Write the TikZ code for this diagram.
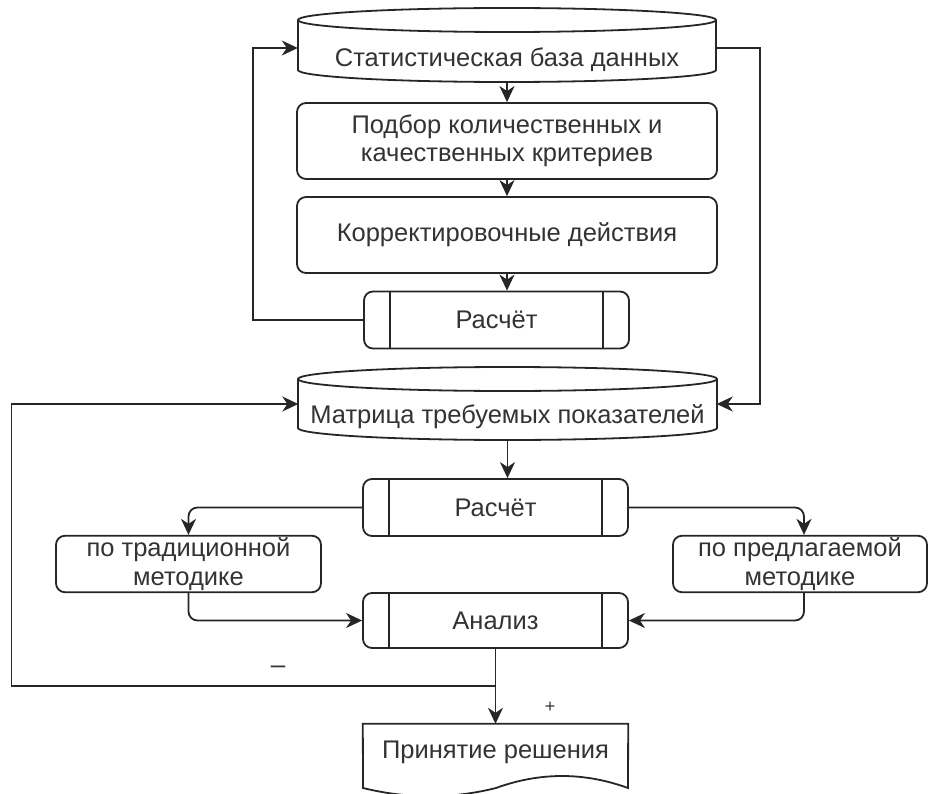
\documentclass[tikz,border=0pt]{standalone}
\usepackage{fontspec}
\setmainfont{Liberation Sans}
\usetikzlibrary{positioning, arrows.meta, calc}

\begin{document}
\begin{tikzpicture}[
  x=1pt, y=-1pt,
  every node/.style={font=\fontsize{25.5}{28.5}\selectfont, text=black!80},
  outline/.style={draw=black!85, line width=1.8pt},
  arr/.style={outline, -{Stealth[length=16pt, width=15pt, inset=5pt]}},
  box/.style={outline, rounded corners=9pt, align=center, inner sep=2pt},
  bigbox/.style={box, minimum width=420pt, minimum height=76pt},
  smallbox/.style={box, minimum width=265pt, minimum height=56pt},
  procbox/.style={smallbox, minimum height=57pt,
    append after command={
      ([xshift=27pt]\tikzlastnode.north west) edge[outline] ([xshift=27pt]\tikzlastnode.south west)
      ([xshift=-27pt]\tikzlastnode.north east) edge[outline] ([xshift=-27pt]\tikzlastnode.south east)}},
  dbtext/.style={minimum width=418pt, inner sep=0pt},
  sign/.style={font=\fontsize{26}{28}\selectfont, inner sep=1pt}
]
\useasboundingbox (0,0) rectangle (928,794);

% Databases (cylinders)
\draw[outline] (298,20) -- (298,70)
  arc[start angle=180, end angle=360, x radius=209pt, y radius=12pt] -- (716,20);
\draw[outline] (507,20) ellipse[x radius=209pt, y radius=12pt];
\node[dbtext, minimum height=44pt] (stat) at (507,60) {Статистическая база данных};

\draw[outline] (298,379) -- (298,428)
  arc[start angle=180, end angle=360, x radius=209.5pt, y radius=12pt] -- (717,379);
\draw[outline] (507.5,379) ellipse[x radius=209.5pt, y radius=12pt];
\node[dbtext, minimum height=46pt] (matr) at (507.5,417) {Матрица требуемых показателей};

% Upper loop
\node[bigbox] (podbor) at (507,141) {Подбор количественных и\\качественных критериев};
\node[bigbox] (korr) at (507,235) {Корректировочные действия};
\node[procbox] (calc1) at (496.5,320) {Расчёт};

% Lower part
\node[procbox] (calc2) at (495.5,507.5) {Расчёт};
\node[smallbox] (trad) at (188.5,564) {по традиционной\\методике};
\node[smallbox, minimum width=254pt] (pred) at (800,564) {по предлагаемой\\методике};
\node[procbox, minimum height=55pt] (anal) at (495.5,620.5) {Анализ};

% Decision (document shape)
\node[minimum width=265pt, minimum height=56pt, inner sep=0pt] (dec) at (495.5,752) {Принятие решения};
\draw[outline] (dec.north west) -- (dec.north east) -- (628,788)
  .. controls (584,772) and (540,772) .. (496,788)
  .. controls (452,799) and (408,799) .. (363,788) -- cycle;

% Connectors
\draw[arr] (stat.south) -- (podbor.north);
\draw[arr] (podbor.south) -- (korr.north);
\draw[arr] (korr.south) -- (korr.south |- calc1.north);
\draw[arr] (calc1.west) -- ++(-110,0) |- ([yshift=12pt]stat.west);
\draw[arr] ([yshift=12pt]stat.east) -- ++(44,0) |- ([yshift=13pt]matr.east);
\draw[arr] (matr.south) -- (matr.south |- calc2.north);
\draw[arr, rounded corners=9pt] (calc2.west) -| (trad.north);
\draw[arr, rounded corners=9pt] (calc2.east) -| ([xshift=4pt]pred.north);
\draw[arr, rounded corners=9pt] (trad.south) |- (anal.west);
\draw[arr, rounded corners=9pt] ([xshift=4pt]pred.south) |- (anal.east);
\draw[arr] (anal.south) -- (dec.north);

% Feedback to the matrix
\coordinate (junc) at ($(anal.south)!0.5!(dec.north)$);
\draw[arr] (junc) -- ++(-484,0) |- ([yshift=13pt]matr.west);
\node[sign] (minus) at (278,670) {–};
\node[sign, font=\fontsize{18}{20}\selectfont] (plus) at (550,707) {+};

\end{tikzpicture}
\end{document}
